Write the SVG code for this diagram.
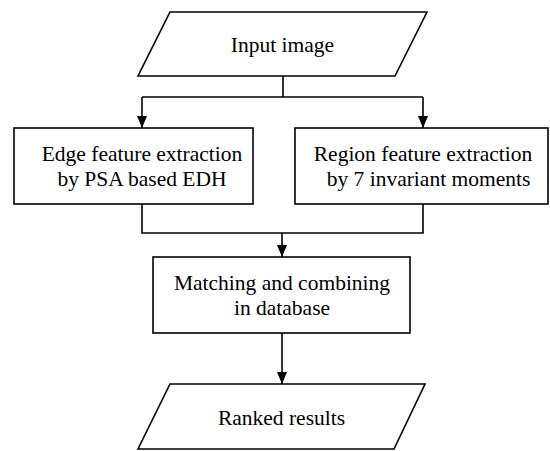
<svg xmlns="http://www.w3.org/2000/svg" width="550" height="451" viewBox="0 0 550 451">
  <style>
    .shape { fill: #ffffff; stroke: #000000; stroke-width: 1.6; }
    .wire { fill: none; stroke: #000000; stroke-width: 1.6; }
    .label { font-family: 'Liberation Serif', 'DejaVu Serif', Tinos, 'Times New Roman', Times, serif; font-size: 21.5px; fill: #000000; text-anchor: middle; }
  </style>
  <defs>
    <marker id="arrow" markerUnits="userSpaceOnUse" markerWidth="12" markerHeight="10" refX="12" refY="5" orient="auto">
      <path d="M0,0 L12,5 L0,10 z" fill="#000000"/>
    </marker>
  </defs>

  <rect x="0" y="0" width="550" height="451" fill="#ffffff"/>

  <g id="connectors">
    <path class="wire" d="M283,76 V97"/>
    <path class="wire" d="M142,97 H423"/>
    <path class="wire" d="M142,97 V128" marker-end="url(#arrow)"/>
    <path class="wire" d="M423,97 V128" marker-end="url(#arrow)"/>
    <path class="wire" d="M142,204 V233 H423 V204"/>
    <path class="wire" d="M282,233 V257" marker-end="url(#arrow)"/>
    <path class="wire" d="M282,333 V384" marker-end="url(#arrow)"/>
  </g>

  <g id="input-image">
    <polygon class="shape" points="170,12 427,12 395,76 138,76"/>
    <text class="label" x="282.5" y="52" font-family="Liberation Serif, serif">Input image</text>
  </g>

  <g id="edge-feature">
    <rect class="shape" x="14" y="128" width="239" height="76"/>
    <text class="label" x="142" y="161" font-family="Liberation Serif, serif">Edge feature extraction</text>
    <text class="label" x="142" y="186" font-family="Liberation Serif, serif">by PSA based EDH</text>
  </g>

  <g id="region-feature">
    <rect class="shape" x="295" y="128" width="253" height="76"/>
    <text class="label" x="423" y="161" font-family="Liberation Serif, serif">Region feature extraction</text>
    <text class="label" x="428.5" y="186" font-family="Liberation Serif, serif">by 7 invariant moments</text>
  </g>

  <g id="matching">
    <rect class="shape" x="153" y="257" width="257" height="76"/>
    <text class="label" x="282" y="290" font-family="Liberation Serif, serif">Matching and combining</text>
    <text class="label" x="282" y="315" font-family="Liberation Serif, serif">in database</text>
  </g>

  <g id="ranked-results">
    <polygon class="shape" points="170,384 425,384 394,449 138,449"/>
    <text class="label" x="281.5" y="425" font-family="Liberation Serif, serif">Ranked results</text>
  </g>
</svg>
